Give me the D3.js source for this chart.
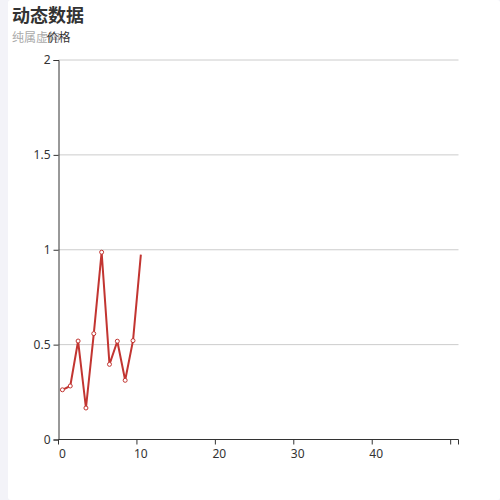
<!DOCTYPE html>
<html>
<head>
<meta charset="utf-8">
<script src="https://cdn.jsdelivr.net/npm/d3@7"></script>
<style>
  html, body { margin: 0; padding: 0; background: #f3f3f8; }
  svg { display: block; font-family: "Noto Sans CJK SC", "Noto Sans", sans-serif; }
</style>
</head>
<body>
<svg id="chart" width="500" height="500"></svg>
<script>
// x axis categories 0..50, only first 11 have values so far
var categories = d3.range(0, 51);
var xLabels = ["0", "10", "20", "30", "40"];
var yTicks = [0, 0.5, 1, 1.5, 2];
var prices = [0.262, 0.282, 0.519, 0.166, 0.558, 0.987, 0.396, 0.518, 0.312, 0.521, 0.974];
var title = "动态数据";
var subtitle = "纯属虚构";
var seriesName = "价格";

var width = 500, height = 500;
var margins = { top: 60, bottom: 60.5, left: 58.5, right: 41.5 };

var svg = d3.select("#chart");

// white panel, grey strip on the left
svg.append("rect")
  .attr("x", 8).attr("y", 0)
  .attr("width", width - 8).attr("height", height)
  .attr("rx", 3)
  .attr("fill", "#fff");

var xScale = d3.scaleBand()
  .domain(categories)
  .range([margins.left, width - margins.right]);

var yScale = d3.scaleLinear()
  .domain([0, 2])
  .range([height - margins.bottom, margins.top]);

// grid lines
svg.append("g")
  .selectAll("line")
  .data(yTicks.slice(1))
  .enter()
  .append("line")
  .attr("x1", margins.left)
  .attr("x2", width - margins.right)
  .attr("y1", function(d){ return yScale(d); })
  .attr("y2", function(d){ return yScale(d); })
  .attr("stroke", "#ccc")
  .attr("stroke-width", 1);

// y axis
var yAxis = d3.axisLeft(yScale)
  .tickValues(yTicks)
  .tickSize(5)
  .tickPadding(3)
  .tickFormat(function(d){ return String(d); });

var gy = svg.append("g")
  .attr("transform", "translate(" + margins.left + ",0)")
  .call(yAxis);
gy.select(".domain").attr("stroke", "#333");
gy.selectAll(".tick line").attr("stroke", "#333");
gy.selectAll(".tick text")
  .attr("fill", "#333")
  .style("font-size", "12px")
  .style("font-family", "'Noto Sans', sans-serif");

// x axis: ticks on band boundaries, labels at band centres
var baseY = yScale(0);
var gx = svg.append("g");
gx.append("line")
  .attr("x1", margins.left).attr("x2", width - margins.right)
  .attr("y1", baseY).attr("y2", baseY)
  .attr("stroke", "#333");

var tickCats = categories.filter(function(d){ return d % 10 === 0; });
gx.selectAll("line.tick")
  .data(tickCats)
  .enter()
  .append("line")
  .attr("class", "tick")
  .attr("x1", function(d){ return xScale(d); })
  .attr("x2", function(d){ return xScale(d); })
  .attr("y1", baseY).attr("y2", baseY + 5)
  .attr("stroke", "#333");
gx.append("line")
  .attr("x1", width - margins.right).attr("x2", width - margins.right)
  .attr("y1", baseY).attr("y2", baseY + 5)
  .attr("stroke", "#333");

gx.selectAll("text")
  .data(xLabels)
  .enter()
  .append("text")
  .attr("x", function(d){ return xScale(+d) + xScale.bandwidth() / 2; })
  .attr("y", baseY + 18.5)
  .attr("text-anchor", "middle")
  .attr("fill", "#333")
  .style("font-size", "12px")
  .style("font-family", "'Noto Sans', sans-serif")
  .text(function(d){ return d; });

// line
var line = d3.line()
  .x(function(d, i){ return xScale(categories[i]) + xScale.bandwidth() / 2; })
  .y(function(d){ return yScale(d); });

svg.append("path")
  .datum(prices)
  .attr("d", line)
  .attr("fill", "none")
  .attr("stroke", "#c23531")
  .attr("stroke-width", 2)
  .attr("stroke-linejoin", "round");

// symbols (last point still animating, no symbol yet)
svg.append("g")
  .selectAll("circle")
  .data(prices.slice(0, prices.length - 1))
  .enter()
  .append("circle")
  .attr("cx", function(d, i){ return xScale(categories[i]) + xScale.bandwidth() / 2; })
  .attr("cy", function(d){ return yScale(d); })
  .attr("r", 2)
  .attr("fill", "#fff")
  .attr("stroke", "#c23531")
  .attr("stroke-width", 1);

// titles
svg.append("text")
  .attr("x", 12).attr("y", 22)
  .attr("fill", "#333")
  .style("font-size", "18px")
  .style("font-weight", "bold")
  .text(title);

svg.append("text")
  .attr("x", 12).attr("y", 42)
  .attr("fill", "#aaa")
  .style("font-size", "12px")
  .text(subtitle);

svg.append("text")
  .attr("x", margins.left).attr("y", 42)
  .attr("text-anchor", "middle")
  .attr("fill", "#333")
  .style("font-size", "12px")
  .text(seriesName);
</script>
</body>
</html>
